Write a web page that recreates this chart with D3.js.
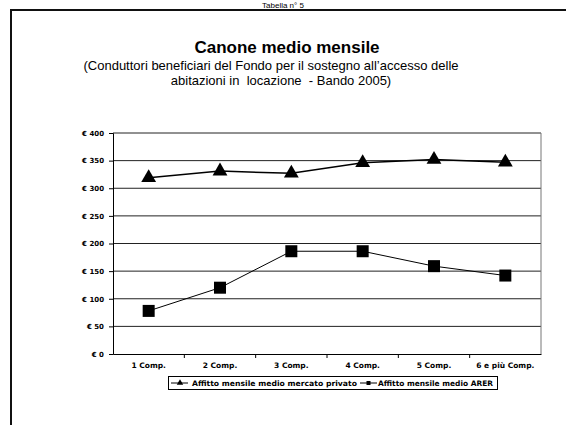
<!DOCTYPE html>
<html><head><meta charset="utf-8">
<script src="https://cdn.jsdelivr.net/npm/d3@7"></script>
<style>body{margin:0;background:#fff}svg{display:block}</style>
</head><body>
<script>
const categories = ["1 Comp.","2 Comp.","3 Comp.","4 Comp.","5 Comp.","6 e più Comp."];
const privato = [319, 331, 327, 346, 352, 347];
const arer = [78, 120, 186, 186, 159, 142];
const yTicks = [0,50,100,150,200,250,300,350,400];
const seriesNames = ["Affitto mensile medio mercato privato","Affitto mensile medio ARER"];

const W=566,H=425;
const svg=d3.select("body").append("svg").attr("width",W).attr("height",H);
// frame
svg.append("path").attr("d","M11,425 L11,10 L566,10").attr("fill","none").attr("stroke","#111").attr("stroke-width",2);
svg.append("text").attr("x",283).attr("y",7.5).attr("text-anchor","middle").attr("font-family","Liberation Sans, Arial").attr("font-size",8).text("Tabella n° 5");

svg.append("text").attr("x",287).attr("y",53).attr("text-anchor","middle").attr("font-family","Liberation Sans, Arial").attr("font-weight","bold").attr("font-size",17).text("Canone medio mensile");
svg.append("text").attr("x",271).attr("y",70).attr("text-anchor","middle").attr("font-family","Liberation Sans, Arial").attr("font-size",13).text("(Conduttori beneficiari del Fondo per il sostegno all’accesso delle");
svg.append("text").attr("x",281).attr("y",85).attr("text-anchor","middle").attr("font-family","Liberation Sans, Arial").attr("font-size",13).style("white-space","pre").text("abitazioni in  locazione  - Bando 2005)");

const L=113,R=541,T=133,B=354;
const x=d3.scaleBand().domain(categories).range([L,R]);
const y=d3.scaleLinear().domain([0,400]).range([B,T]);

// grid
svg.append("g").selectAll("line").data(yTicks.filter(v=>v>0)).join("line")
 .attr("x1",L).attr("x2",R).attr("y1",d=>y(d)).attr("y2",d=>y(d)).attr("stroke","#222").attr("stroke-width",1);
svg.append("line").attr("x1",R).attr("x2",R).attr("y1",T).attr("y2",B).attr("stroke","#777");

const fontAx="DejaVu Sans, Verdana";
const ya=svg.append("g").attr("transform",`translate(${L},0)`).call(d3.axisLeft(y).tickValues(yTicks).tickSize(4).tickFormat(d=>"€ "+d));
ya.select(".domain").attr("stroke","#000");
ya.selectAll("line").attr("stroke","#000");
ya.selectAll("text").attr("font-family",fontAx).attr("font-weight","bold").attr("font-size",7).attr("fill","#000").attr("dx",-2);
const xa=svg.append("g").attr("transform",`translate(0,${B})`).call(d3.axisBottom(x).tickSize(0).tickPadding(9));
xa.select(".domain").attr("stroke","#000");
xa.selectAll("text").attr("font-family",fontAx).attr("font-weight","bold").attr("font-size",7.5).attr("fill","#000");
// x tick marks at boundaries
svg.append("g").selectAll("line").data(categories.slice(1)).join("line")
 .attr("x1",d=>x(d)).attr("x2",d=>x(d)).attr("y1",B).attr("y2",B+4).attr("stroke","#000");

const cx=d=>x(d)+x.bandwidth()/2;
const line=d3.line().x((d,i)=>cx(categories[i])).y(d=>y(d));
svg.append("path").datum(privato).attr("d",line).attr("fill","none").attr("stroke","#000").attr("stroke-width",1.5);
svg.append("path").datum(arer).attr("d",line).attr("fill","none").attr("stroke","#000").attr("stroke-width",1);
const tri=d3.symbol().type(d3.symbolTriangle).size(95);
svg.append("g").selectAll("path").data(privato).join("path")
 .attr("transform",(d,i)=>`translate(${cx(categories[i])},${y(d)})`).attr("d",tri).attr("fill","#000");
svg.append("g").selectAll("rect").data(arer).join("rect")
 .attr("x",(d,i)=>cx(categories[i])-6).attr("y",d=>y(d)-6).attr("width",12).attr("height",12).attr("fill","#000");

// legend
const lg=svg.append("g");
lg.append("rect").attr("x",168.5).attr("y",376.5).attr("width",329).attr("height",13).attr("fill","#fff").attr("stroke","#000");
const items=[{x:171,tx:192,w:165,n:seriesNames[0],m:"tri"},{x:360,tx:378,w:115,n:seriesNames[1],m:"sq"}];
items.forEach(it=>{
  lg.append("line").attr("x1",it.x).attr("x2",it.x+17).attr("y1",383).attr("y2",383).attr("stroke","#000");
  if(it.m==="tri") lg.append("path").attr("transform",`translate(${it.x+9},383)`).attr("d",d3.symbol().type(d3.symbolTriangle).size(18)).attr("fill","#000");
  else lg.append("rect").attr("x",it.x+6.5).attr("y",381).attr("width",4).attr("height",4).attr("fill","#000");
  lg.append("text").attr("x",it.tx).attr("y",385.5).attr("font-family",fontAx).attr("font-weight","bold").attr("font-size",7.5).attr("textLength",it.w).attr("lengthAdjust","spacingAndGlyphs").text(it.n);
});
</script>
</body></html>
